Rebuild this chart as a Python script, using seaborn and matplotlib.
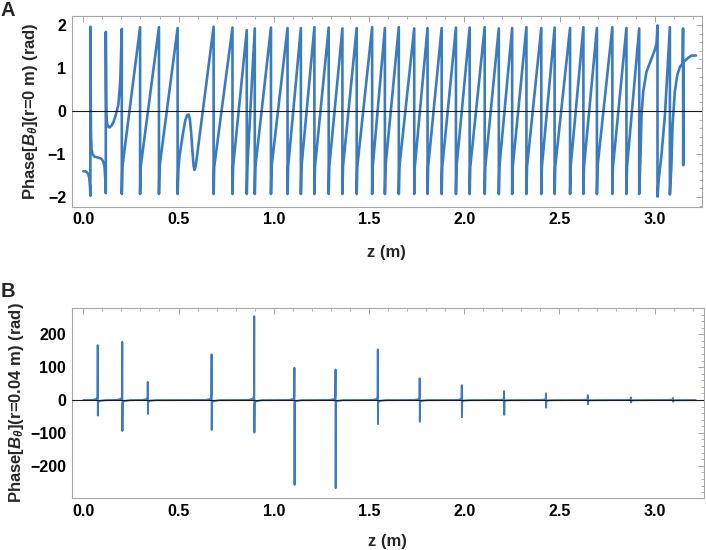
import numpy as np
import pandas as pd
import matplotlib
matplotlib.use("Agg")
import matplotlib.pyplot as plt
from matplotlib.ticker import MultipleLocator
import seaborn as sns

# Panel A : phase at r=0, sawtooth
# start of the curve (two descending wraps, then a rising bend)
head_z = [0.0, 0.010, 0.018, 0.026, 0.031, 0.035, 0.037,
          0.037, 0.0385, 0.040, 0.043, 0.048, 0.058, 0.075, 0.095, 0.105, 0.111, 0.115, 0.118,
          0.118, 0.1195, 0.121, 0.125, 0.132, 0.138, 0.148, 0.158, 0.170, 0.184, 0.194, 0.202]
head_v = [-1.40, -1.40, -1.42, -1.47, -1.55, -1.75, -1.97,
          1.96, 0.50, -0.50, -0.88, -1.00, -1.06, -1.08, -1.11, -1.18, -1.30, -1.55, -1.91,
          1.84, 0.60, -0.10, -0.30, -0.37, -0.38, -0.34, -0.26, -0.10, 0.15, 0.70, 1.91]

# positions of the wraps (top -> bottom) and the top value reached just before
wrap_z = [0.202, 0.298, 0.397, 0.495, 0.684, 0.783, 0.858, 0.900, 0.985, 1.072,
          1.142, 1.213, 1.288, 1.360, 1.435, 1.516, 1.583, 1.656, 1.737, 1.807,
          1.881, 1.956, 2.028, 2.107, 2.181, 2.251, 2.326, 2.404, 2.474, 2.555,
          2.625, 2.696, 2.777, 2.851, 2.918]
wrap_top = [1.91, 1.95, 1.95, 1.93, 1.96, 1.94, 1.88, 1.92, 1.94, 1.93,
            1.93, 1.95, 1.94, 1.92, 1.93, 1.95, 1.93, 1.95, 1.92, 1.93,
            1.93, 1.94, 1.94, 1.95, 1.92, 1.93, 1.95, 1.93, 1.94, 1.93,
            1.95, 1.93, 1.95, 1.93, 1.92]
wrap_bottom = -1.93
ramp_start = -1.30

# the bump between 0.495 and 0.684
bump_z = [0.499, 0.505, 0.514, 0.524, 0.535, 0.545, 0.552, 0.559, 0.566, 0.573,
          0.579, 0.584, 0.590, 0.684]
bump_v = [-1.35, -1.05, -0.78, -0.50, -0.22, -0.10, -0.08, -0.18, -0.50, -0.95,
          -1.28, -1.37, -1.28, 1.96]

# end of the curve after the last regular wrap
tail_z = [2.925, 2.930, 2.939, 2.956, 2.983, 3.000, 3.009, 3.014,
          3.014, 3.021, 3.035, 3.053, 3.065, 3.075, 3.079,
          3.079, 3.083, 3.087, 3.093, 3.105, 3.118, 3.132, 3.146, 3.148, 3.149,
          3.151, 3.158, 3.176, 3.193, 3.216]
tail_v = [-1.00, -0.10, 0.45, 0.91, 1.22, 1.42, 1.58, 1.99,
          -1.99, -1.56, -1.02, -0.09, 0.84, 1.61, 1.95,
          -1.94, -1.60, -1.26, -0.33, 0.45, 0.84, 1.03, 1.11, 1.92, -1.26,
          1.15, 1.17, 1.24, 1.29, 1.29]

# Panel B : phase at r=0.04 m, spikes
spike_z = [0.076, 0.205, 0.339, 0.674, 0.898, 1.109, 1.325, 1.547, 1.767, 1.988,
           2.210, 2.430, 2.650, 2.876, 3.097]
spike_top = [167, 177, 55, 139, 255, 98, 93, 154, 66, 45, 27, 20, 15, 8, 6]
spike_bot = [-47, -94, -42, -91, -99, -258, -268, -73, -66, -52, -45, -23, -13, -7, -5]
spike_shoulder = [5, 6, 4, 6, 7, 5, 5, 5, 4, 3, 2, 2, 1, 1, 1]
b_end = 3.216

# build panel A polyline
za = list(head_z)
va = list(head_v)
for i in range(len(wrap_z) - 1):
    za += [wrap_z[i]]
    va += [wrap_bottom]
    if i == 3:
        za += bump_z
        va += bump_v
    else:
        za += [wrap_z[i] + 0.003, wrap_z[i + 1]]
        va += [ramp_start, wrap_top[i + 1]]
za += [wrap_z[-1]] + tail_z
va += [wrap_bottom] + tail_v
dfa = pd.DataFrame({"z": za, "phase": va})

# build panel B polyline
zb = [0.0]
vb = [0.0]
for z, t, b, s in zip(spike_z, spike_top, spike_bot, spike_shoulder):
    zb += [z - 0.03, z - 0.006, z - 0.0015, z - 0.0004, z + 0.0004, z + 0.0015, z + 0.006, z + 0.04]
    vb += [0.3, s * 0.6, s * 2, t, b, -s * 2, -s * 0.6, -0.3]
zb += [b_end]
vb += [0.0]
dfb = pd.DataFrame({"z": zb, "phase": vb})

sns.set_theme(style="white")
plt.rcParams["font.family"] = ["Liberation Sans", "DejaVu Sans"]
plt.rcParams["mathtext.fontset"] = "custom"
plt.rcParams["mathtext.rm"] = "Liberation Sans:bold"
plt.rcParams["mathtext.it"] = "Liberation Sans:italic:bold"
plt.rcParams["mathtext.bf"] = "Liberation Sans:bold"

blue = "#3b7cbf"
frame = "#a6a6a6"

fig = plt.figure(figsize=(7.06, 5.5), dpi=100)
axA = fig.add_axes([71.7 / 706, 1 - 206.7 / 550, 630 / 706, 191 / 550])
axB = fig.add_axes([71.7 / 706, 1 - 498 / 550, 632 / 706, 190 / 550])

sns.lineplot(data=dfa, x="z", y="phase", ax=axA, sort=False, estimator=None,
             color=blue, lw=1.9)
sns.lineplot(data=dfb, x="z", y="phase", ax=axB, sort=False, estimator=None,
             color=blue, lw=1.4)

for ax in (axA, axB):
    ax.axhline(0, color="#1a1a1a", lw=0.8, zorder=3)
    for sp in ax.spines.values():
        sp.set_color(frame)
        sp.set_linewidth(0.8)
    ax.tick_params(which="both", direction="in", top=True, right=True,
                   color=frame, labelcolor="black", labelsize=11.5, pad=4.0)
    ax.tick_params(which="major", length=4.5, width=0.7)
    ax.tick_params(which="minor", length=2.5, width=0.6)
    ax.xaxis.set_minor_locator(MultipleLocator(0.1))
    ax.set_xticks([0.0, 0.5, 1.0, 1.5, 2.0, 2.5, 3.0])
    ax.set_xticklabels(["0.0", "0.5", "1.0", "1.5", "2.0", "2.5", "3.0"], fontweight="bold")
    ax.set_xlabel("z (m)", fontsize=12, fontweight="bold")
    ax.xaxis.label.set_va("center")

axA.set_xlim(-0.061, 3.246)
axA.set_ylim(-2.225, 2.216)
axA.yaxis.set_minor_locator(MultipleLocator(0.2))
axA.set_yticks([-2, -1, 0, 1, 2])
axA.set_yticklabels(["\u22122", "\u22121", "0", "1", "2"], fontweight="bold")
axA.set_ylabel("Phase[$B_{\\theta}$](r=0 m) (rad)", fontsize=12, fontweight="bold",
               va="center")
axA.yaxis.set_label_coords(-0.066, 0.5)
axA.xaxis.set_label_coords(0.5, -0.242)

axB.set_xlim(-0.061, 3.258)
axB.set_ylim(-298, 280)
axB.yaxis.set_minor_locator(MultipleLocator(20))
axB.set_yticks([-200, -100, 0, 100, 200])
axB.set_yticklabels(["\u2212200", "\u2212100", "0", "100", "200"], fontweight="bold")
axB.set_ylabel("Phase[$B_{\\theta}$](r=0.04 m) (rad)", fontsize=12, fontweight="bold",
               va="center")
axB.yaxis.set_label_coords(-0.088, 0.5)
axB.xaxis.set_label_coords(0.5, -0.23)

fig.text(0.001, 0.998, "A", fontsize=14.5, fontweight="bold", va="top", ha="left")
fig.text(0.001, 1 - 282 / 550, "B", fontsize=14.5, fontweight="bold", va="top", ha="left")

fig.savefig("out.png", dpi=100)
